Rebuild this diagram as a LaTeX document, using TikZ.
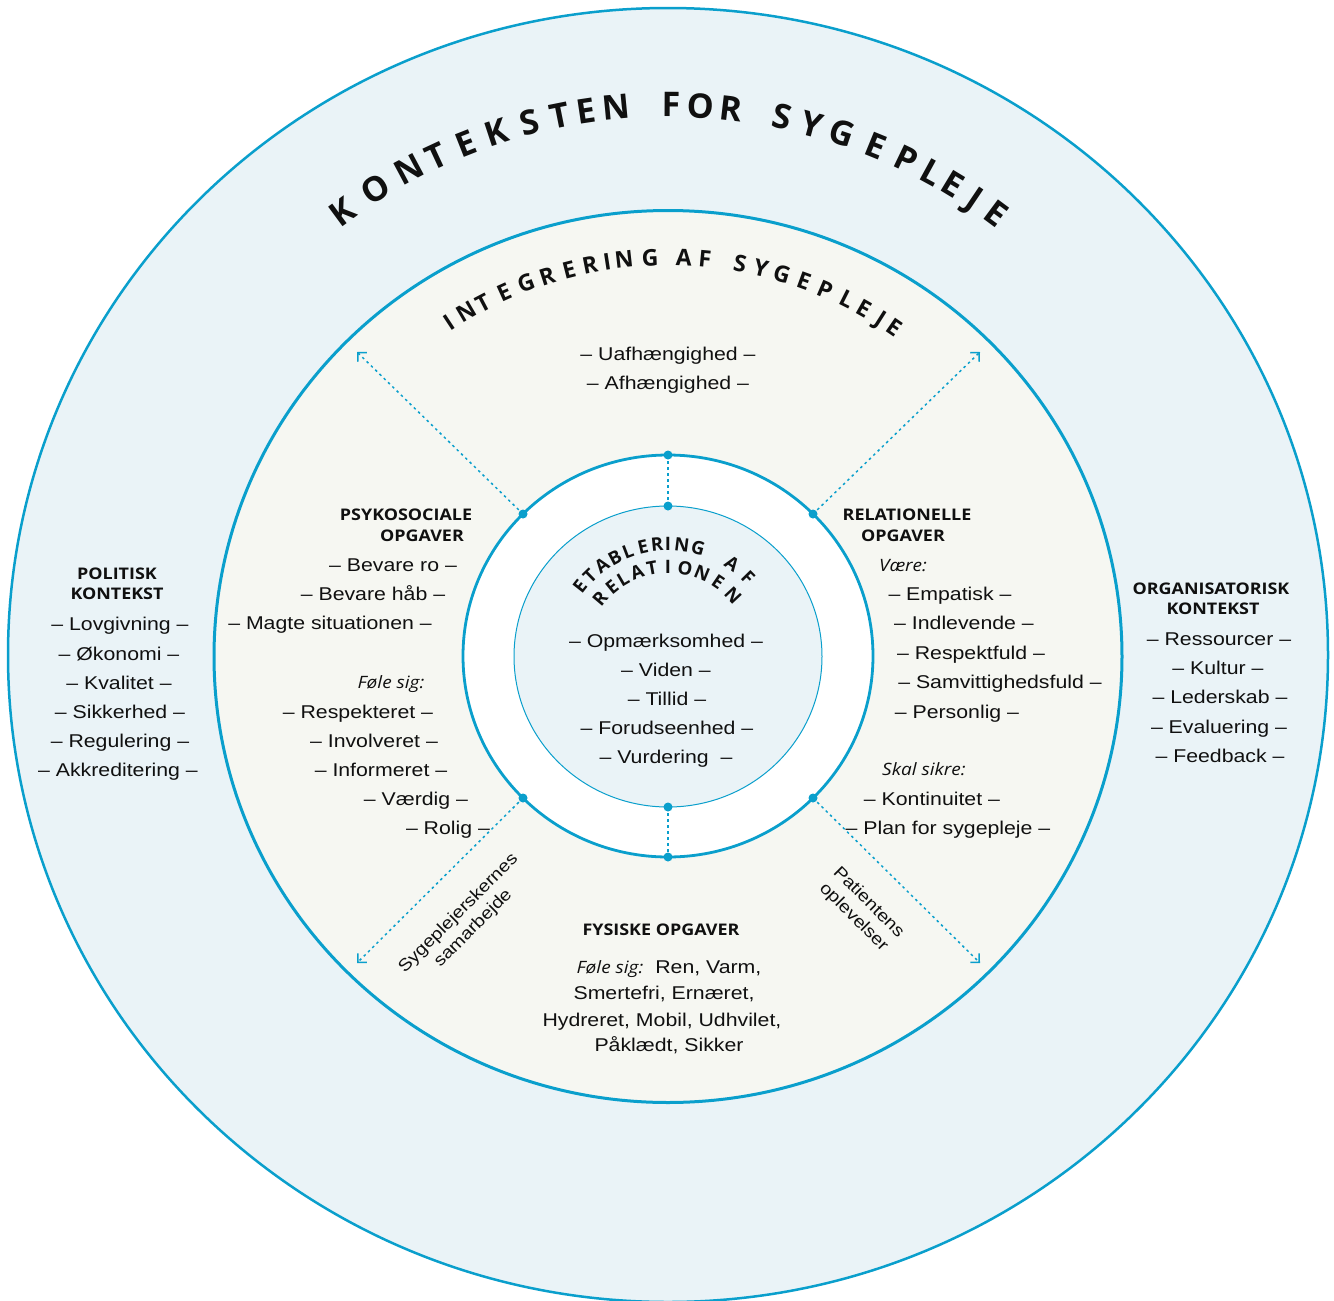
\documentclass[tikz,border=0pt]{standalone}
\usepackage{fontspec}
\setmainfont{Liberation Sans}
\newfontfamily\itemf[FakeStretch=1.15]{Liberation Sans}
\newfontfamily\headf[FakeStretch=1.12]{Open Sans}
\newfontfamily\titlef{Open Sans}
\usetikzlibrary{arrows.meta}
\definecolor{lineblue}{HTML}{0A9FCC}
\definecolor{outerfill}{HTML}{EAF3F7}
\definecolor{midfill}{HTML}{F6F7F2}
\definecolor{innerfill}{HTML}{EAF3F7}
\definecolor{txt}{HTML}{101010}
\tikzset{
  item/.style={font=\itemf\fontsize{18.5}{22}\selectfont, text=txt, inner sep=0pt, text height=13pt, text depth=0pt},
  head/.style={font=\headf\bfseries\fontsize{16}{19}\selectfont, text=txt, inner sep=0pt, text height=11.5pt, text depth=0pt},
  ital/.style={font=\headf\itshape\fontsize{17}{19}\selectfont, text=txt, inner sep=0pt, text height=12pt, text depth=0pt},
  lab/.style={font=\itemf\fontsize{17}{21}\selectfont, text=txt, inner sep=0pt, align=center},
  bigletter/.style={font=\titlef\bfseries\fontsize{34}{34}\selectfont, text=txt, inner sep=0pt, text height=24pt, text depth=0pt},
  midletter/.style={font=\titlef\bfseries\fontsize{23}{23}\selectfont, text=txt, inner sep=0pt, text height=16.5pt, text depth=0pt},
  smallletter/.style={font=\titlef\bfseries\fontsize{18.5}{18.5}\selectfont, text=txt, inner sep=0pt, text height=13pt, text depth=0pt},
  dotarrow/.style={lineblue, line width=1.5pt, dash pattern=on 2.5pt off 3.5pt, -{Straight Barb[angle=90:9pt, line width=1.5pt]}},
  dotline/.style={lineblue, line width=1.5pt, dash pattern=on 2.5pt off 3.5pt},
  dot/.style={fill=lineblue}
}
\begin{document}
\begin{tikzpicture}[x=1pt,y=1pt]
\useasboundingbox (0,0) rectangle (1334,-1301);
% circles
\coordinate (C) at (668,-655);
\coordinate (CI) at (668,-656);
\draw[lineblue, line width=2.5pt, fill=outerfill] (C) ellipse [x radius=660, y radius=647];
\draw[lineblue, line width=3pt, fill=midfill] (668,-656.5) ellipse [x radius=454, y radius=446];
\draw[lineblue, line width=2.8pt, fill=white] (CI) ellipse [x radius=205, y radius=201];
\draw[lineblue, line width=1pt, fill=innerfill] (668,-656.5) ellipse [x radius=154, y radius=150.5];
% dots and connectors
\coordinate (dN) at (668,-455);
\coordinate (iN) at (668,-506);
\coordinate (iS) at (668,-807);
\coordinate (dS) at (668,-857);
\coordinate (dNE) at (813,-514);
\coordinate (dNW) at (523,-514);
\coordinate (dSW) at (523,-798);
\coordinate (dSE) at (813,-798);
\coordinate (aNW) at (357,-352);
\coordinate (aNE) at (980,-352);
\coordinate (aSW) at (357,-963);
\coordinate (aSE) at (980,-963);
\draw[dotline] (dN) -- (iN);
\draw[dotline] (iS) -- (dS);
\draw[dotarrow] (dNW) -- (aNW);
\draw[dotarrow] (dNE) -- (aNE);
\draw[dotarrow] (dSW) -- (aSW);
\draw[dotarrow] (dSE) -- (aSE);
\foreach \p in {dN,iN,iS,dS,dNE,dNW,dSW,dSE} \fill[dot] (\p) circle (4.5);
% curved titles
\foreach \ch/\dx [count=\i] in {K/-326,O/-292,N/-259,T/-232,E/-202,K/-172,S/-138,T/-108,E/-82,N/-52,F/3,O/33,R/63,S/114,Y/144,G/174,E/208,P/238,L/264,E/285,J/307,E/328}{
  \pgfmathsetmacro\th{acos(\dx/550)}
  \node[bigletter, rotate=\th-90] (kt\i) at ([shift={(\th:550)}]C) {\ch};
}
\foreach \ch/\dx [count=\i] in {I/-219,N/-202,T/-185,E/-164,G/-142,R/-121,E/-99,R/-78,I/-61,N/-44,G/-18,A/16,F/37,S/72,Y/93,G/114,E/136,P/157,L/179,E/196,J/213,E/226}{
  \pgfmathsetmacro\th{acos(\dx/398)}
  \node[midletter, rotate=\th-90] (in\i) at ([shift={(\th:398)}]C) {\ch};
}
\foreach \ch/\dx [count=\i] in {E/-88,T/-78,A/-66,B/-53,L/-40,E/-25,R/-11,I/0,N/14,G/30,A/64,F/80}{
  \pgfmathsetmacro\th{acos(\dx/112)}
  \node[smallletter, rotate=\th-90] (et\i) at ([shift={(\th:112)}]CI) {\ch};
}
\foreach \ch/\dx [count=\i] in {R/-68,E/-56,L/-45,A/-31,T/-16,I/0,O/17,N/34,E/50,N/65}{
  \pgfmathsetmacro\th{acos(\dx/89)}
  \node[smallletter, rotate=\th-90] (re\i) at ([shift={(\th:89)}]CI) {\ch};
}
% top
\node[item] (uaf) at (668,-354) {– Uafhængighed –};
\node[item] (afh) at (668,-383) {– Afhængighed –};
% psykosociale
\node[head] (psy1) at (406,-515) {PSYKOSOCIALE};
\node[head] (psy2) at (422,-536) {OPGAVER};
\node[item] (ps1) at (393,-565) {– Bevare ro –};
\node[item] (ps2) at (373,-594) {– Bevare håb –};
\node[item] (ps3) at (330,-623) {– Magte situationen –};
\node[ital] (psf) at (391,-682) {Føle sig:};
\node[item] (ps4) at (358,-712) {– Respekteret –};
\node[item] (ps5) at (374,-741) {– Involveret –};
\node[item] (ps6) at (381,-770) {– Informeret –};
\node[item] (ps7) at (416,-799) {– Værdig –};
\node[item] (ps8) at (448,-828) {– Rolig –};
% relationelle
\node[head] (rel1) at (907,-515) {RELATIONELLE};
\node[head] (rel2) at (903,-536) {OPGAVER};
\node[ital] (rev) at (903,-565) {Være:};
\node[item] (re1x) at (950,-594) {– Empatisk –};
\node[item] (re2x) at (964,-623) {– Indlevende –};
\node[item] (re3x) at (971,-653) {– Respektfuld –};
\node[item] (re4x) at (1000,-682) {– Samvittighedsfuld –};
\node[item] (re5x) at (957,-712) {– Personlig –};
\node[ital] (res) at (924,-769) {Skal sikre:};
\node[item] (re6x) at (932,-799) {– Kontinuitet –};
\node[item] (re7x) at (948,-828) {– Plan for sygepleje –};
% inner
\node[item] (in1x) at (666,-641) {– Opmærksomhed –};
\node[item] (in2x) at (666,-670) {– Viden –};
\node[item] (in3x) at (667,-699) {– Tillid –};
\node[item] (in4x) at (667,-728) {– Forudseenhed –};
\node[item] (in5x) at (666,-757) {– Vurdering \ –};
% politisk
\node[head] (pol1) at (117,-574) {POLITISK};
\node[head] (pol2) at (117,-594) {KONTEKST};
\node[item] (po1) at (120,-624) {– Lovgivning –};
\node[item] (po2) at (119,-654) {– Økonomi –};
\node[item] (po3) at (119,-683) {– Kvalitet –};
\node[item] (po4) at (120,-712) {– Sikkerhed –};
\node[item] (po5) at (120,-741) {– Regulering –};
\node[item] (po6) at (118,-770) {– Akkreditering –};
% organisatorisk
\node[head] (org1) at (1211,-589) {ORGANISATORISK};
\node[head] (org2) at (1213,-609) {KONTEKST};
\node[item] (or1) at (1219,-639) {– Ressourcer –};
\node[item] (or2) at (1218,-668) {– Kultur –};
\node[item] (or3) at (1220,-697) {– Lederskab –};
\node[item] (or4) at (1219,-727) {– Evaluering –};
\node[item] (or5) at (1220,-756) {– Feedback –};
% fysiske
\node[head] (fys) at (661,-930) {FYSISKE OPGAVER};
\node[item] (fy1) at (669,-967) {{\headf\itshape\fontsize{17}{19}\selectfont Føle sig:}\hspace{12pt}Ren, Varm,};
\node[item] (fy2) at (664,-993) {Smertefri, Ernæret,};
\node[item] (fy3) at (662,-1020) {Hydreret, Mobil, Udhvilet,};
\node[item] (fy4) at (669,-1045) {Påklædt, Sikker};
% rotated labels
\node[lab, rotate=45] (sam) at (466,-921) {Sygeplejerskernes\\samarbejde};
\node[lab, rotate=-45] (pat) at (861,-910) {Patientens\\oplevelser};
\end{tikzpicture}
\end{document}
